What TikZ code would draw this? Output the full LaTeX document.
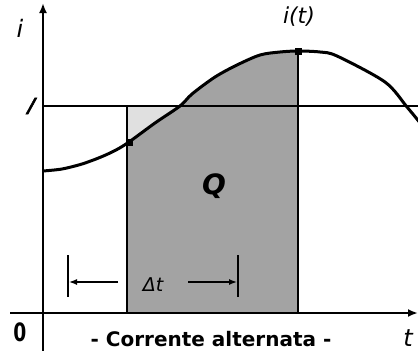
\documentclass[tikz,border=0pt]{standalone}
\usepackage{fontspec}
\setmainfont{DejaVu Sans}
\newfontfamily\slfont[FakeSlant=0.55,FakeBold=2.5]{DejaVu Sans}
\usetikzlibrary{arrows.meta}
\begin{document}
\begin{tikzpicture}[x=1pt,y=-1pt,
  axis/.style={line width=2pt},
  curveline/.style={line width=3pt, line join=round},
  edgeline/.style={line width=1.4pt},
  hline/.style={line width=2.6pt},
  dense/.style={fill=black!36},
  light/.style={fill=black!12},
  lbl/.style={inner sep=0pt, font=\itshape\fontsize{24}{24}\selectfont},
  marker/.style={fill=black, rectangle, minimum size=7pt, inner sep=0pt},
  bigtip/.style={-{Latex[length=10pt,width=8pt]}},
  smalltip/.style={-{Latex[length=8pt,width=6pt]}}
]
\useasboundingbox (0,0) rectangle (418,351);
\fill[white] (0,0) rectangle (418,351);
\def\curvepts{(43,171) (62,169) (82,164) (101,157) (116,150) (129,142) (155,123) (180,106) (192,94) (215,77) (237,65) (260,55) (280,52) (298,51) (320,52) (337,56) (385,82) (407,107) (421,124)}
% shading
\fill[light] (127,106) rectangle (298,313);
\begin{scope}
  \clip (127,0) rectangle (298,313);
  \fill[dense] plot[smooth, tension=0.5] coordinates {\curvepts} -- (421,313) -- (43,313) -- cycle;
\end{scope}
% coordinates
\coordinate (O) at (43,313);
\coordinate (ytop) at (43,3);
\coordinate (ybot) at (43,351);
\coordinate (xleft) at (10,313);
\coordinate (xright) at (418,313);
\coordinate (Il) at (43,106);
\coordinate (Ir) at (418,106);
\coordinate (Lt) at (127,106);
\coordinate (Lb) at (127,313);
\coordinate (Rt) at (298,51);
\coordinate (Rb) at (298,313);
% rectangle edges
\draw[edgeline] (Lt) -- (Lb);
\draw[edgeline] (Rt) -- (Rb);
% axes
\draw[axis, bigtip] (ybot) -- (ytop);
\draw[axis, bigtip] (xleft) -- (xright);
% I line
\draw[hline] (Il) -- (Ir);
% curve
\draw[curveline] plot[smooth, tension=0.5] coordinates {\curvepts};
\node[marker] (m1) at (129,142) {};
\node[marker] (m2) at (298,51) {};
% delta t dimension
\coordinate (t1a) at (68,255);
\coordinate (t1b) at (68,297);
\coordinate (t2a) at (238,255);
\coordinate (t2b) at (238,297);
\coordinate (a1s) at (118,282);
\coordinate (a1e) at (69,282);
\coordinate (a2s) at (188,282);
\coordinate (a2e) at (237,282);
\draw[line width=1.4pt] (t1a) -- (t1b);
\draw[line width=2.2pt] (t2a) -- (t2b);
\draw[line width=1.4pt, smalltip] (a1s) -- (a1e);
\draw[line width=1.4pt, smalltip] (a2s) -- (a2e);
% labels
\node[lbl] (li) at (20,28) {i};
\node[inner sep=0pt, font=\slfont\fontsize{22}{22}\selectfont] (lI) at (27,106) {I};
\node[lbl, font=\itshape\fontsize{22}{22}\selectfont] (lit) at (299,17) {i(t)};
\node[lbl, font=\bfseries\itshape\fontsize{28}{28}\selectfont] (lQ) at (214,186) {Q};
\node[lbl, font=\itshape\fontsize{19}{19}\selectfont] (ldt) at (153,285) {Δt};
\node[inner sep=0pt, font=\bfseries\fontsize{22}{22}\selectfont] (l0) at (20,332) {\scalebox{0.85}[1.15]{0}};
\node[inner sep=0pt, anchor=base, font=\bfseries\fontsize{20}{20}\selectfont] (lca) at (211,346) {- Corrente alternata -};
\node[lbl] (lt) at (408,338) {t};
\end{tikzpicture}
\end{document}
